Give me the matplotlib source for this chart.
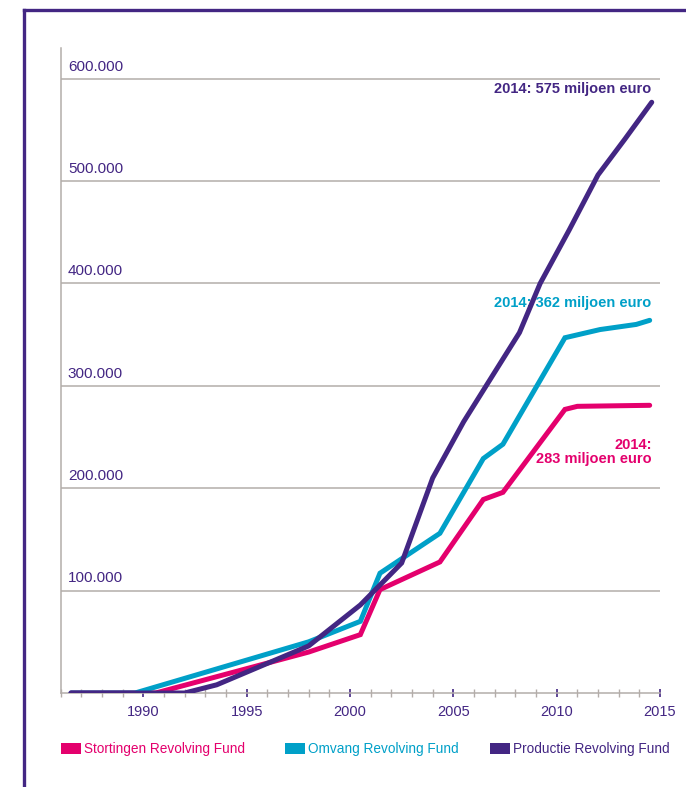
import matplotlib.pyplot as plt
from matplotlib.lines import Line2D
from matplotlib.patches import Rectangle

# kleuren
PURPLE = "#432683"
CYAN = "#00a0c8"
MAGENTA = "#e4006d"
GREY = "#b3ada9"

plt.rcParams["font.family"] = ["Liberation Sans", "DejaVu Sans"]

# data, in duizenden euro
years_stortingen = [1986.5, 1990.6, 1998.0, 2000.5, 2001.45, 2004.35, 2006.45, 2007.4, 2010.4, 2011.0, 2014.5]
stortingen = [0, 0, 40, 57, 101, 128, 189, 196, 277, 280, 281]

years_omvang = [1986.5, 1989.6, 1998.0, 2000.5, 2001.45, 2004.35, 2006.45, 2007.4, 2010.4, 2012.1, 2013.85, 2014.5]
omvang = [0, 0, 50, 70, 117, 156, 229, 243, 347, 355, 360, 364]

years_productie = [1986.5, 1992.0, 1993.55, 1998.0, 2000.5, 2002.5, 2004.0, 2005.5, 2008.2, 2009.2, 2010.6, 2012.0, 2013.3, 2014.6]
productie = [0, 0, 8, 46, 86, 127, 210, 265, 352, 400, 452, 506, 541, 577]

y_ticks = [100, 200, 300, 400, 500, 600]
y_labels = ["100.000", "200.000", "300.000", "400.000", "500.000", "600.000"]
x_major = [1990, 1995, 2000, 2005, 2010, 2015]
legend_labels = ["Stortingen Revolving Fund", "Omvang Revolving Fund", "Productie Revolving Fund"]

fig = plt.figure(figsize=(6.86, 7.87), dpi=100)
ax = fig.add_axes([60.7 / 686, 1 - 693 / 787, (660 - 60.7) / 686, (693 - 48) / 787])

# gridlijnen
for v in y_ticks:
    ax.axhline(v, color=GREY, lw=1.1, zorder=1)

ax.plot(years_stortingen, stortingen, color=MAGENTA, lw=3.6, solid_capstyle="round", solid_joinstyle="miter", zorder=3)
ax.plot(years_omvang, omvang, color=CYAN, lw=3.6, solid_capstyle="round", solid_joinstyle="miter", zorder=3)
ax.plot(years_productie, productie, color=PURPLE, lw=3.6, solid_capstyle="round", solid_joinstyle="miter", zorder=4)

ax.set_xlim(1986, 2015)
ax.set_ylim(0, 630)

# y-labels boven de gridlijnen
for v, lab in zip(y_ticks, y_labels):
    ax.text(1986.35, v + 5, lab, color=PURPLE, fontsize=11, ha="left", va="bottom")
ax.set_yticks([])

ax.set_xticks(x_major)
ax.set_xticklabels([str(x) for x in x_major], color=PURPLE, fontsize=10.5)
ax.set_xticks(range(1986, 2016), minor=True)
ax.tick_params(axis="x", which="major", color=PURPLE, length=6, width=1.2, direction="inout", pad=6)
ax.tick_params(axis="x", which="minor", color=GREY, length=6, width=1.0, direction="inout")

for s in ["top", "right"]:
    ax.spines[s].set_visible(False)
ax.spines["left"].set_color(GREY)
ax.spines["bottom"].set_color(GREY)
ax.spines["left"].set_linewidth(1.1)
ax.spines["bottom"].set_linewidth(1.1)

# annotaties
ax.text(2014.6, 590, "2014: 575 miljoen euro", color=PURPLE, fontsize=10.5, fontweight="bold", ha="right", va="center")
ax.text(2014.6, 381, "2014: 362 miljoen euro", color=CYAN, fontsize=10.5, fontweight="bold", ha="right", va="center")
ax.text(2014.6, 235, "2014:\n283 miljoen euro", color=MAGENTA, fontsize=10.5, fontweight="bold",
        ha="right", va="center", multialignment="right", linespacing=1.0)

# legenda
W, H = 686, 787
legend_x = [61, 285, 490]
for x0, lab, col in zip(legend_x, legend_labels, [MAGENTA, CYAN, PURPLE]):
    fig.add_artist(Rectangle((x0 / W, 1 - 754 / H), 20 / W, 11 / H, transform=fig.transFigure,
                             facecolor=col, edgecolor="none"))
    fig.text((x0 + 23) / W, 1 - 748.5 / H, lab, color=col, fontsize=9.8, ha="left", va="center")

# kader
fig.add_artist(Line2D([24 / W, 24 / W], [0, 1 - 10 / H], transform=fig.transFigure, color=PURPLE, lw=2.4))
fig.add_artist(Line2D([24 / W, 1], [1 - 10 / H, 1 - 10 / H], transform=fig.transFigure, color=PURPLE, lw=2.4))

fig.savefig("out.png", dpi=100)
